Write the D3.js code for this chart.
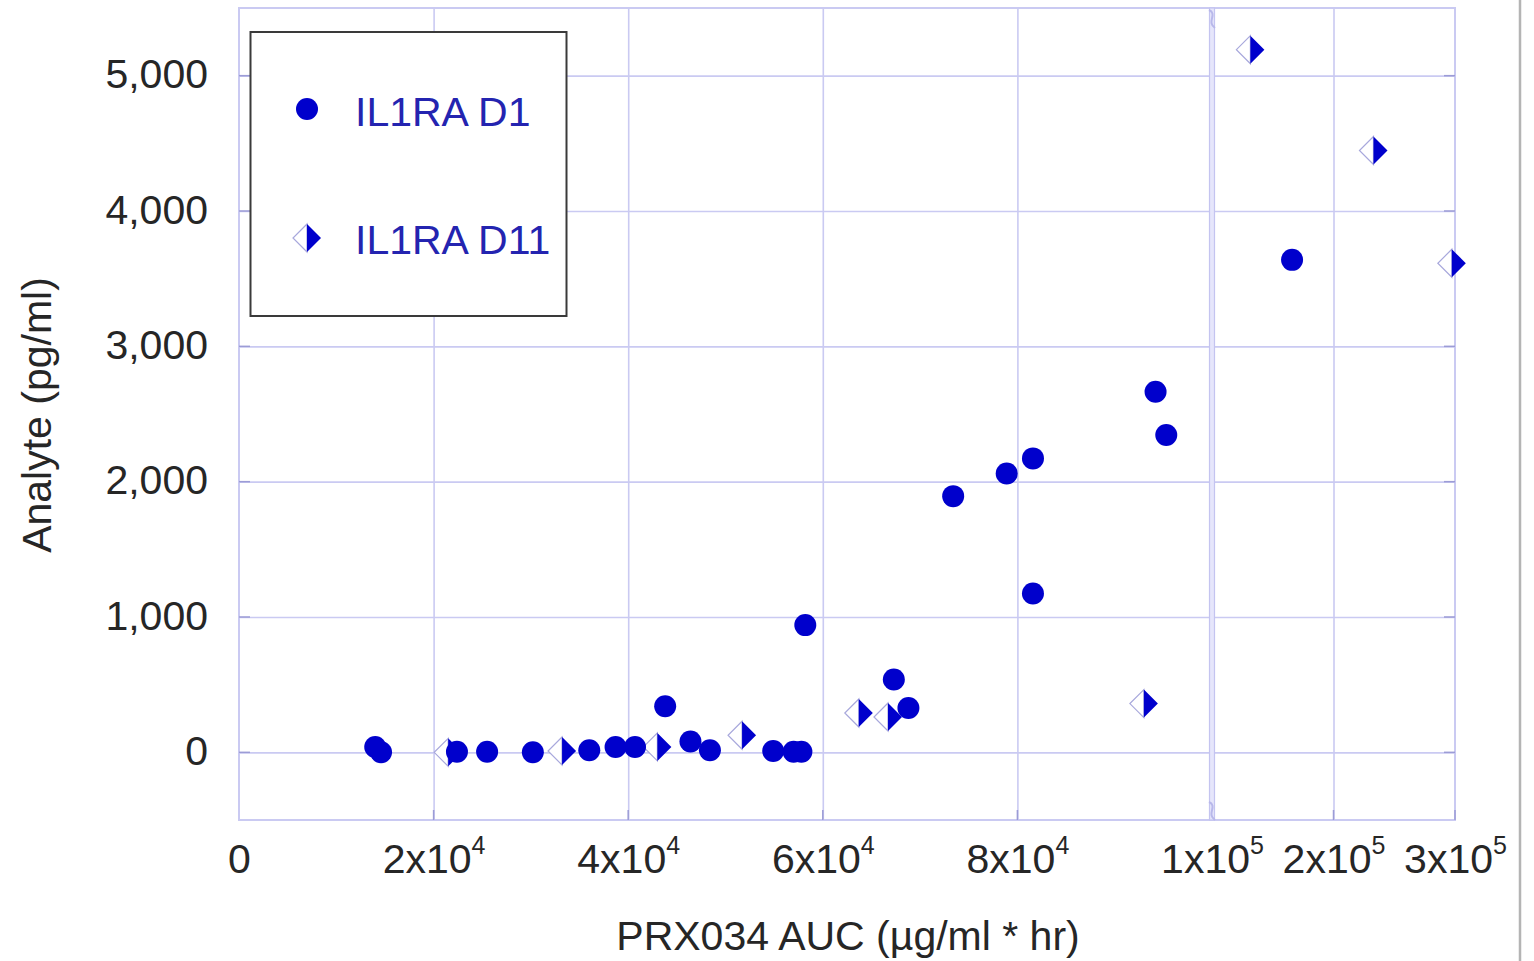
<!DOCTYPE html>
<html>
<head>
<meta charset="utf-8">
<script src="https://cdn.jsdelivr.net/npm/d3@7"></script>
<style>
  html, body { margin: 0; padding: 0; background: #fff; }
  svg { display: block; font-family: "Liberation Sans", Arial, sans-serif; }
</style>
</head>
<body>
<svg id="chart" width="1534" height="961"></svg>
<script>
// IL1RA D1 (filled circles): PRX034 AUC (µg/ml*hr) vs analyte (pg/ml)
const d1Auc = [14000, 14600, 22400, 25500, 30200, 36000, 38700, 40700, 43800, 46400,
               48400, 54900, 57000, 57800, 58200, 67300, 68800, 73400, 78900, 81600,
               81600, 94200, 95300, 165900];
const d1Val = [40, 0, 5, 5, 0, 15, 40, 40, 340, 80,
               15, 10, 5, 5, 940, 538, 328, 1893, 2061, 2172,
               1174, 2665, 2345, 3639];

// IL1RA D11 (half-filled diamonds)
const d11Auc = [21500, 33200, 43000, 51700, 63700, 66700, 93000, 131600, 232900, 297400];
const d11Val = [0, 10, 40, 126, 291, 261, 360, 5192, 4447, 3614];

const seriesNames = ["IL1RA D1", "IL1RA D11"];

// axis ticks
const xTicks = [0, 20000, 40000, 60000, 80000, 100000, 200000, 300000];
const yTicks = [0, 1000, 2000, 3000, 4000, 5000];

const xTitle = "PRX034 AUC (\u00b5g/ml * hr)";
const yTitle = "Analyte (pg/ml)";

// ---- layout ----
const L = 239, R = 1455, T = 8, B = 820, BRK = 1212;
const FS = 41;
const blue = "#0000cc";
const grid = "#cacaf2";
const tickCol = "#9c9cd6";
const textCol = "#262626";

const svg = d3.select("#chart");

// broken x axis: linear 0–1e5, then a compressed 1e5–3e5 segment
const x = d3.scaleLinear().domain([0, 100000, 300000]).range([L, BRK, R]);
const y = d3.scaleLinear().domain([-500, 5500]).range([B, T]);

// frame on the right side of the figure
svg.append("line").attr("x1", 1520).attr("x2", 1520).attr("y1", 0).attr("y2", 961)
  .attr("stroke", "#b4b4b4").attr("stroke-width", 2.5);

// horizontal gridlines
const gy = svg.append("g").attr("transform", `translate(${L},0)`)
  .call(d3.axisLeft(y).tickValues(yTicks).tickSize(-(R - L)).tickFormat(""));
gy.select(".domain").remove();
gy.selectAll(".tick line").attr("stroke", grid).attr("stroke-width", 1.6);

// vertical gridlines (break and right edge drawn separately)
const gx = svg.append("g").attr("transform", `translate(0,${B})`)
  .call(d3.axisBottom(x).tickValues(xTicks.filter(v => v > 0 && v !== 100000 && v !== 300000))
    .tickSize(-(B - T)).tickFormat(""));
gx.select(".domain").remove();
gx.selectAll(".tick line").attr("stroke", grid).attr("stroke-width", 1.6);

// plot border
svg.append("rect").attr("x", L).attr("y", T).attr("width", R - L).attr("height", B - T)
  .attr("fill", "none").attr("stroke", grid).attr("stroke-width", 2);

// short inward tick marks
const tk = svg.append("g").attr("stroke", tickCol).attr("stroke-width", 1.5);
yTicks.forEach(v => {
  tk.append("line").attr("x1", L).attr("x2", L + 11).attr("y1", y(v)).attr("y2", y(v));
  tk.append("line").attr("x1", R - 11).attr("x2", R).attr("y1", y(v)).attr("y2", y(v));
});
xTicks.filter(v => v > 0 && v !== 100000).forEach(v => {
  tk.append("line").attr("x1", x(v)).attr("x2", x(v)).attr("y1", B - 10).attr("y2", B);
});

// axis break: double line with small squiggles at both ends
svg.append("rect").attr("x", BRK - 2.5).attr("y", T).attr("width", 5).attr("height", B - T)
  .attr("fill", "#e6e6fb").attr("stroke", "#c4c4f0").attr("stroke-width", 1.2);
[T + 2, B - 18].forEach(y0 => {
  svg.append("path")
    .attr("d", `M${BRK - 3},${y0} C${BRK + 6},${y0 + 4} ${BRK - 6},${y0 + 12} ${BRK + 3},${y0 + 18}`)
    .attr("fill", "none").attr("stroke", "#b8b8ea").attr("stroke-width", 2);
});

// y tick labels
const yl = svg.append("g").attr("transform", `translate(${L},0)`)
  .call(d3.axisLeft(y).tickValues(yTicks).tickSize(0).tickPadding(31)
    .tickFormat(d3.format(",")));
yl.select(".domain").remove();
yl.selectAll("text").attr("fill", textCol).attr("font-size", FS)
  .attr("font-family", "Liberation Sans, Arial, sans-serif").attr("dy", "0.3em");

// x tick labels in m x 10^e notation
const xl = svg.append("g").attr("transform", `translate(0,${B})`)
  .call(d3.axisBottom(x).tickValues(xTicks).tickSize(0).tickFormat(""));
xl.select(".domain").remove();
xl.selectAll(".tick text").each(function (d) {
  const t = d3.select(this).attr("y", 53).attr("dy", 0)
    .attr("fill", textCol).attr("font-size", FS)
    .attr("font-family", "Liberation Sans, Arial, sans-serif");
  if (d === 0) { t.text("0"); return; }
  const e = Math.floor(Math.log10(d));
  const m = Math.round(d / Math.pow(10, e));
  t.text(null);
  t.append("tspan").text(`${m}x10`);
  t.append("tspan").attr("font-size", 25).attr("dy", -19).text(e);
});

// axis titles
svg.append("text").attr("x", (L + R) / 2 + 1).attr("y", 950).attr("text-anchor", "middle")
  .attr("font-size", FS).attr("fill", textCol).text(xTitle);
svg.append("text").attr("transform", `translate(51,415) rotate(-90)`)
  .attr("text-anchor", "middle").attr("font-size", FS).attr("fill", textCol).text(yTitle);

// half-filled diamond symbol parts
const HD = 14;
const diamondLeft = { draw(ctx) { ctx.moveTo(0, -HD); ctx.lineTo(-HD, 0); ctx.lineTo(0, HD); ctx.closePath(); } };
const diamondRight = { draw(ctx) { ctx.moveTo(0, -HD); ctx.lineTo(HD, 0); ctx.lineTo(0, HD); ctx.closePath(); } };

function halfDiamond(g, cx, cy) {
  const s = g.append("g").attr("transform", `translate(${cx},${cy})`);
  s.append("path").attr("d", d3.symbol().type(diamondLeft)()).attr("fill", "#fff")
    .attr("stroke", "#a8a8dc").attr("stroke-width", 1.2);
  s.append("path").attr("d", d3.symbol().type(diamondRight)()).attr("fill", blue);
}

// data marks
const d11Data = d11Auc.map((a, i) => ({ a, v: d11Val[i] }));
const d1Data = d1Auc.map((a, i) => ({ a, v: d1Val[i] }));

const marks = svg.append("g");
d11Data.forEach(d => halfDiamond(marks, x(d.a), y(d.v)));
marks.selectAll("circle.d1").data(d1Data).join("circle").attr("class", "d1")
  .attr("cx", d => x(d.a)).attr("cy", d => y(d.v)).attr("r", 11).attr("fill", blue);

// legend
const lg = svg.append("g");
lg.append("rect").attr("x", 250.5).attr("y", 32).attr("width", 316).attr("height", 284)
  .attr("fill", "#fff").attr("stroke", "#3a3a3a").attr("stroke-width", 2);
lg.append("circle").attr("cx", 307).attr("cy", 109).attr("r", 11).attr("fill", blue);
halfDiamond(lg, 307, 238);
lg.selectAll("text.leg").data(seriesNames).join("text").attr("class", "leg")
  .attr("x", 355).attr("y", (d, i) => 126 + i * 128)
  .attr("font-size", FS).attr("fill", "#2424b0").text(d => d);
</script>
</body>
</html>
